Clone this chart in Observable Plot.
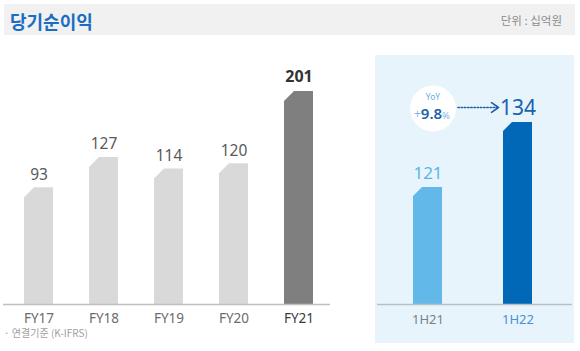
<!DOCTYPE html>
<html><head><meta charset="utf-8">
<script src="https://cdn.jsdelivr.net/npm/d3@7"></script>
<script src="https://cdn.jsdelivr.net/npm/@observablehq/plot@0.6"></script>
<style>
body{margin:0;background:#fff;font-family:"Noto Sans","Noto Sans CJK KR",sans-serif;}
#wrap{position:relative;width:580px;height:351px;overflow:hidden;background:#fff;}
#titlebar{position:absolute;left:4px;top:4px;width:571px;height:31px;background:#f1f1f1;}
#title{position:absolute;left:6px;top:2px;line-height:31px;font-size:18px;font-weight:bold;color:#1a6dc2;font-family:"Noto Sans CJK KR",sans-serif;}
#unit{position:absolute;right:13px;top:1px;line-height:31px;font-size:11.5px;color:#8c8c8c;font-family:"Noto Sans CJK KR",sans-serif;}
#panel{position:absolute;left:375px;top:55px;width:199px;height:288px;background:#e8f4fc;}
#left{position:absolute;left:0;top:40px;}
#note{position:absolute;left:4px;top:326px;font-size:10px;line-height:14px;color:#a0a0a0;font-family:"Noto Sans CJK KR",sans-serif;}
svg{overflow:visible;}
</style></head>
<body>
<div id="wrap">
  <div id="titlebar"><div id="title"></div><div id="unit"></div></div>
  <div id="panel"></div>
  <div id="left"></div>
  <div id="note"></div>
</div>
<script>
// ---- data ----
const titleText = "당기순이익";
const unitText = "단위 : 십억원";
const noteText = "· 연결기준 (K-IFRS)";
const fyCategories = ["FY17", "FY18", "FY19", "FY20", "FY21"];
const fyValues = [93, 127, 114, 120, 201];
const hCategories = ["1H21", "1H22"];
const hValues = [121, 134];
const yoyLabel = "YoY";
const yoyParts = ["+", "9.8", "%"];

document.getElementById("title").textContent = titleText;
document.getElementById("unit").textContent = unitText;
document.getElementById("note").textContent = noteText;

const FONT = '"Noto Sans","Noto Sans CJK KR",sans-serif';
const fy = fyCategories.map((c, i) => ({cat: c, value: fyValues[i], last: i === fyCategories.length - 1}));
const hh = hCategories.map((c, i) => ({cat: c, value: hValues[i], idx: i}));

// visual baselines of the original (axis does not start at zero)
const LEFT_MIN = -38;
const RIGHT_MIN = 97.6;

function chamfer(svg, c) {
  svg.querySelectorAll('g[aria-label="bar"] rect').forEach(r => {
    const x = +r.getAttribute("x"), y = +r.getAttribute("y");
    const w = +r.getAttribute("width"), h = +r.getAttribute("height");
    const p = document.createElementNS("http://www.w3.org/2000/svg", "path");
    for (const a of r.attributes) {
      if (!["x", "y", "width", "height"].includes(a.name)) p.setAttribute(a.name, a.value);
    }
    p.setAttribute("d", `M${x},${y + h}L${x},${y + c}L${x + c},${y}L${x + w},${y}L${x + w},${y + h}Z`);
    r.replaceWith(p);
  });
}

const left = Plot.plot({
  width: 340, height: 311,
  marginLeft: 3, marginRight: 10, marginTop: 51, marginBottom: 47,
  x: {type: "band", domain: fyCategories, paddingInner: 0.557, paddingOuter: 0.2745, align: 0.556, axis: null},
  y: {domain: [LEFT_MIN, d3.max(fyValues)], axis: null},
  style: {background: "transparent", fontFamily: FONT, overflow: "visible"},
  marks: [
    Plot.barY(fy, {x: "cat", y1: LEFT_MIN, y2: "value", fill: d => d.last ? "#7f7f7f" : "#d9d9d9"}),
    Plot.ruleY([LEFT_MIN], {stroke: "#bfbfbf", strokeWidth: 1.5}),
    Plot.text(fy.filter(d => !d.last), {x: "cat", y: "value", text: d => String(d.value), dy: -13, fontSize: 15.5, fill: "#595959"}),
    Plot.text(fy.filter(d => d.last), {x: "cat", y: "value", text: d => String(d.value), dy: -15, fontSize: 16, fontWeight: "bold", fill: "#333333"}),
    Plot.text(fy.filter(d => !d.last), {x: "cat", frameAnchor: "bottom", text: "cat", dy: 18, fontSize: 13.5, fill: "#6b6b6b"}),
    Plot.text(fy.filter(d => d.last), {x: "cat", frameAnchor: "bottom", text: "cat", dy: 18, fontSize: 13.5, fill: "#3a3a3a"})
  ]
});
chamfer(left, 10);
document.getElementById("left").appendChild(left);

const arrowData = [{from: hCategories[0], to: hCategories[1], level: hValues[1]}];
const bubble = [{cat: hCategories[0], level: hValues[1]}];

const right = Plot.plot({
  width: 199, height: 288,
  marginLeft: 2, marginRight: 2, marginTop: 67, marginBottom: 39,
  x: {type: "band", domain: hCategories, paddingInner: 0.676, paddingOuter: 0.41, align: 0.47, axis: null},
  y: {domain: [RIGHT_MIN, d3.max(hValues)], axis: null},
  style: {background: "transparent", fontFamily: FONT, overflow: "visible"},
  marks: [
    Plot.barY(hh, {x: "cat", y1: RIGHT_MIN, y2: "value", fill: d => d.idx === 0 ? "#63b8ea" : "#0068b6"}),
    Plot.ruleY([RIGHT_MIN], {stroke: "#b8bec4", strokeWidth: 1.5}),
    Plot.text(hh.filter(d => d.idx === 0), {x: "cat", y: "value", text: d => String(d.value), dy: -14, fontSize: 17, fill: "#5ab4e8"}),
    Plot.text(hh.filter(d => d.idx === 1), {x: "cat", y: "value", text: d => String(d.value), dy: -14, fontSize: 21, fill: "#1763ad"}),
    Plot.text(hh.filter(d => d.idx === 0), {x: "cat", frameAnchor: "bottom", text: "cat", dy: 19, fontSize: 13, fill: "#7a7f88"}),
    Plot.text(hh.filter(d => d.idx === 1), {x: "cat", frameAnchor: "bottom", text: "cat", dy: 19, fontSize: 13, fill: "#4a90d2"}),
    // YoY bubble
    Plot.dot(bubble, {x: "cat", y: "level", r: 23, fill: "white", dx: 5, dy: -14}),
    Plot.text(bubble, {x: "cat", y: "level", text: () => yoyLabel, dx: 5, dy: -25.5, fontSize: 8.5, fill: "#6aaee0"}),
    Plot.text(bubble, {x: "cat", y: "level", text: () => yoyParts[0], dx: -10.5, dy: -8, fontSize: 12, fill: "#7ab8e2"}),
    Plot.text(bubble, {x: "cat", y: "level", text: () => yoyParts[1], dx: 3.5, dy: -8.5, fontSize: 15, fontWeight: 600, fill: "#1d5fa8", letterSpacing: -1.5}),
    Plot.text(bubble, {x: "cat", y: "level", text: () => yoyParts[2], dx: 18, dy: -7, fontSize: 9.5, fill: "#7ab8e2"}),
    // dotted arrow
    Plot.arrow(arrowData, {x1: "from", x2: "to", y1: "level", y2: "level", dy: -15, insetStart: 30, insetEnd: 21, headLength: 0, stroke: "#1d5fa8", strokeWidth: 1.6, strokeDasharray: "1.4,1.8"}),
    Plot.arrow(arrowData, {x1: "from", x2: "to", y1: "level", y2: "level", dy: -15, insetStart: 69, insetEnd: 19.5, headLength: 8, headAngle: 70, stroke: "#1d5fa8", strokeWidth: 1.6})
  ]
});
chamfer(right, 9);
document.getElementById("panel").appendChild(right);
</script>
</body></html>
